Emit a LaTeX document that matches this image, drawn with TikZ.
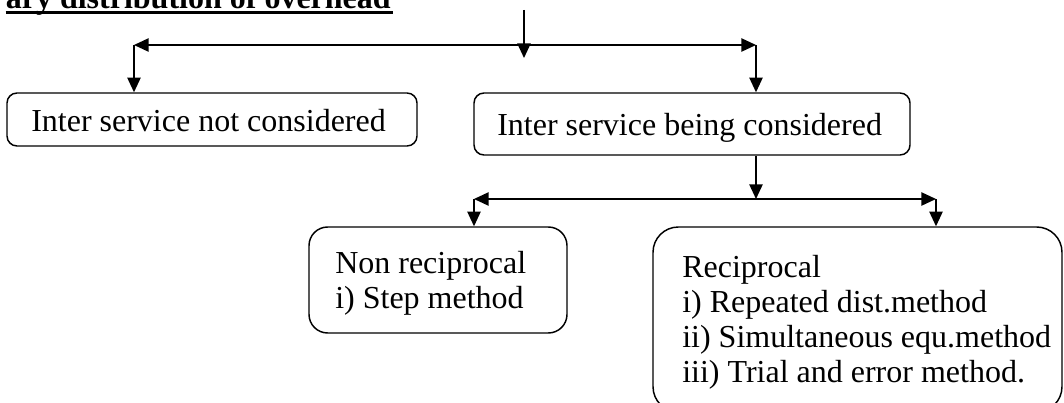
\documentclass[tikz,border=0pt]{standalone}
\usepackage{fontspec}
\setmainfont{Liberation Serif}
\usetikzlibrary{arrows.meta}
\definecolor{Ink}{HTML}{000000}
\tikzset{
  flow arrow/.style={-{Triangle[length=11pt,width=10pt]}, draw=Ink, line width=1.1pt},
  split arrow/.style={{Triangle[length=11pt,width=10pt]}-{Triangle[length=11pt,width=10pt]}, draw=Ink, line width=1.1pt},
  flow box/.style={draw=Ink, line width=1.1pt, rounded corners=#1, inner sep=0pt},
  flow box/.default=7.5pt,
  box text/.style={anchor=base west, inner sep=0pt, align=left, text=Ink,
    font=\fontsize{24}{26.25}\selectfont},
  title text/.style={anchor=base east, inner sep=0pt, text=Ink,
    font=\bfseries\fontsize{24}{26.6}\selectfont},
  title rule/.style={draw=Ink, line width=1.9pt},
}

\begin{document}
\begin{tikzpicture}[x=0.75pt, y=-0.75pt]
  % Page frame cuts the heading and the last box, as in the scan.
  \useasboundingbox (0,0) rectangle (1064,403);
  \clip (0,0) rectangle (1064,403);

  \node[title text] (title) at (391,9) {ary distribution of overhead};
  \draw[title rule] ([yshift=-2.6pt]title.base west) -- ([xshift=1.5pt,yshift=-2.6pt]title.base east);

  % Frames.
  \node[flow box, minimum width=307.5pt, minimum height=39.75pt] (notconsidered) at (212,119.5) {};
  \node[flow box, minimum width=327pt, minimum height=46.5pt] (considered) at (692,124) {};
  \node[flow box=14pt, minimum width=193.5pt, minimum height=79.5pt] (nonreciprocal) at (438,280) {};
  \node[flow box=19pt, minimum width=306.75pt, minimum height=138.75pt] (reciprocal) at (857.5,319.5) {};

  % Texts, left aligned inside the frames (base = last line).
  \node[box text] (notconsideredText) at (31,132) {Inter service not considered};
  \node[box text] (consideredText) at (497,135) {Inter service being considered};
  \node[box text] (nonreciprocalText) at (335,308) {Non reciprocal\\i) Step method};
  \node[box text] (reciprocalText) at (682,382)
    {Reciprocal\\i) Repeated dist.method\\ii) Simultaneous equ.method\\iii) Trial and error method.};

  % Branch points.
  \coordinate (entry) at (524,10);
  \coordinate (entryTip) at (524,58);
  \coordinate (splitLeft) at (134,45);
  \coordinate (splitRight) at (756,45);
  \coordinate (branch) at (756,199);
  \coordinate (branchLeft) at (474,199);
  \coordinate (branchRight) at (936,199);

  % First split.
  \draw[flow arrow] (entry) -- (entryTip);
  \draw[split arrow] (splitLeft) -- (splitRight);
  \draw[flow arrow] (splitLeft) -- (splitLeft |- notconsidered.north);
  \draw[flow arrow] (splitRight) -- (splitRight |- considered.north);

  % Second split.
  \draw[flow arrow] (splitRight |- considered.south) -- (branch);
  \draw[split arrow] (branchLeft) -- (branchRight);
  \draw[flow arrow] (branchLeft) -- (branchLeft |- nonreciprocal.north);
  \draw[flow arrow] (branchRight) -- (branchRight |- reciprocal.north);
\end{tikzpicture}
\end{document}
